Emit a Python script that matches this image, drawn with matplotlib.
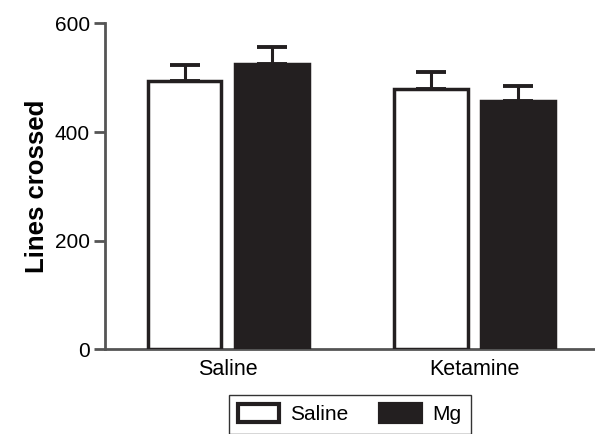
import numpy as np
import matplotlib.pyplot as plt

plt.rcParams['font.family'] = ['Liberation Sans', 'DejaVu Sans']

groups = ["Saline", "Ketamine"]
series = ["Saline", "Mg"]
saline_mean = [494, 480]
saline_sem = [29, 31]
mg_mean = [526, 457]
mg_sem = [31, 28]
yticks = [0, 200, 400, 600]

fig = plt.figure(figsize=(5.95, 4.34), dpi=100)
ax = fig.add_axes([0.1765, 0.195, 0.8235, 0.751])

x = np.arange(len(groups))
w = 0.30
off = 0.177
edge = '#231f20'

ax.bar(x - off, saline_mean, w, color='white', edgecolor=edge, linewidth=2.5,
       label=series[0], zorder=3)
ax.bar(x + off, mg_mean, w, color='#231f20', edgecolor=edge, linewidth=2.5,
       label=series[1], zorder=3)
ax.errorbar(x - off, saline_mean, yerr=[np.zeros(2), saline_sem], fmt='none',
            ecolor=edge, elinewidth=2.2, capsize=11, capthick=2.8, zorder=2)
ax.errorbar(x + off, mg_mean, yerr=[np.zeros(2), mg_sem], fmt='none',
            ecolor=edge, elinewidth=2.2, capsize=11, capthick=2.8, zorder=2)

ax.set_xlim(-0.5, 1.49)
ax.set_ylim(0, 600)
ax.set_yticks(yticks)
ax.set_xticks(x)
ax.set_xticklabels(groups, fontsize=15.5)
ax.tick_params(axis='x', length=0, pad=7)
ax.tick_params(axis='y', length=8, width=2, color='#555555', labelsize=15, pad=3)
ax.set_ylabel("Lines crossed", fontsize=18.5, fontweight='bold', labelpad=4)

for s in ['top', 'right']:
    ax.spines[s].set_visible(False)
for s in ['left', 'bottom']:
    ax.spines[s].set_color('#555555')
    ax.spines[s].set_linewidth(2)

leg = fig.legend(loc='upper left', bbox_to_anchor=(229 / 595, 1 - 395 / 434),
                 ncol=2, fontsize=15, frameon=True, fancybox=False,
                 edgecolor='black', handlelength=1.95, handleheight=0.9,
                 columnspacing=1.5, handletextpad=0.55, borderpad=0.45,
                 borderaxespad=0)
leg.get_frame().set_linewidth(1.0)
for h in leg.legend_handles:
    h.set_linewidth(3)

fig.savefig("out.png", dpi=100)
